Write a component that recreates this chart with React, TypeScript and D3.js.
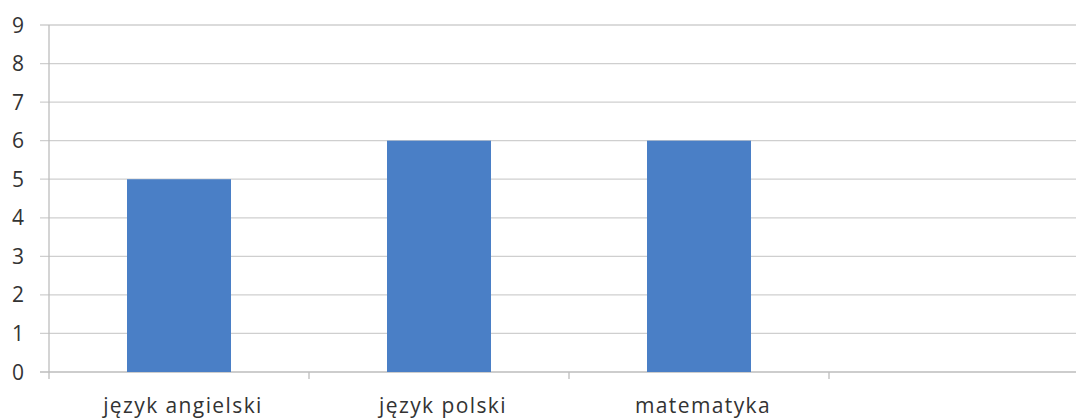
import React from "react";
import * as d3 from "d3";

const categories = ["język angielski", "język polski", "matematyka", ""];
const values = [5, 6, 6, null];
const yTicks = [0, 1, 2, 3, 4, 5, 6, 7, 8, 9];

export default function App() {
  const W = 1076, H = 418;
  const left = 49, right = 1089, top = 25, bottom = 372;
  const x = d3.scaleBand<string>().domain(categories.map((c, i) => i + "")).range([left, right]).paddingInner(0.6).paddingOuter(0.3);
  const xb = d3.scaleBand<string>().domain(categories.map((c, i) => i + "")).range([left, right]);
  const y = d3.scaleLinear().domain([0, 9]).range([bottom, top]);
  const font = "'Open Sans', 'Liberation Sans', sans-serif";
  const textColor = "#333333";
  return (
    <svg width={W} height={H} style={{ position: "absolute", left: 0, top: 0, background: "#fff" }} fontFamily={font}>
      {yTicks.map((t) => (
        <g key={t}>
          <line x1={40} x2={right} y1={y(t)} y2={y(t)} stroke={t === 0 ? "#bdbdbd" : "#cfcfcf"} strokeWidth={1.3} />
          <text x={24} y={y(t)} dy="0.36em" textAnchor="end" fontSize={21} fill={textColor}>{t}</text>
        </g>
      ))}
      <line x1={left} x2={left} y1={top} y2={bottom + 7} stroke="#bdbdbd" strokeWidth={1.3} />
      {categories.map((c, i) => (
        <line key={"t" + i} x1={xb(i + "")! + xb.bandwidth()} x2={xb(i + "")! + xb.bandwidth()} y1={bottom} y2={bottom + 7} stroke="#bdbdbd" strokeWidth={1.3} />
      ))}
      {values.map((v, i) =>
        v == null ? null : (
          <rect key={"b" + i} x={x(i + "")} width={x.bandwidth()} y={y(v)} height={y(0) - y(v)} fill="#4a7fc6" />
        )
      )}
      {categories.map((c, i) => (
        <text key={"l" + i} x={xb(i + "")! + xb.bandwidth() / 2 + 4} y={413} textAnchor="middle" fontSize={21} letterSpacing={1.4} fill={textColor}>{c}</text>
      ))}
    </svg>
  );
}
